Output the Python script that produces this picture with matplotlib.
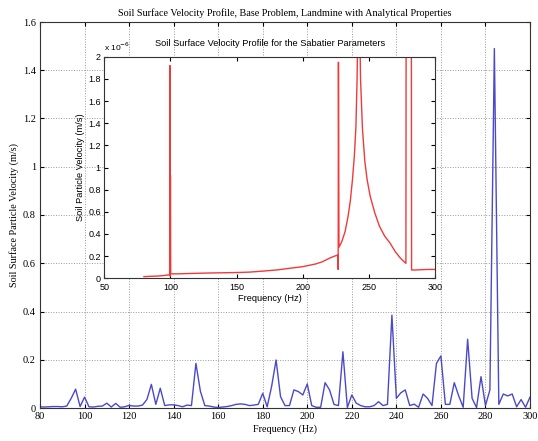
import numpy as np
import matplotlib
matplotlib.use('Agg')
import matplotlib.pyplot as plt
from matplotlib.ticker import FormatStrFormatter

# main plot: landmine, analytical properties (2 Hz steps)
freq = np.arange(80, 302, 2)
vel = [0.005, 0.004, 0.005, 0.006, 0.006, 0.005, 0.008, 0.04, 0.078, 0.006,
       0.045, 0.005, 0.004, 0.007, 0.008, 0.02, 0.004, 0.019, 0.003, 0.005,
       0.011, 0.008, 0.008, 0.012, 0.035, 0.098, 0.015, 0.082, 0.01, 0.013,
       0.013, 0.01, 0.005, 0.012, 0.01, 0.185, 0.07, 0.01, 0.008, 0.004,
       0.002, 0.004, 0.006, 0.01, 0.015, 0.017, 0.015, 0.01, 0.012, 0.015,
       0.061, 0.005, 0.09, 0.199, 0.047, 0.01, 0.01, 0.075, 0.068, 0.054,
       0.1, 0.01, 0.003, 0.003, 0.105, 0.075, 0.015, 0.01, 0.233, 0.002,
       0.054, 0.02, 0.01, 0.005, 0.005, 0.01, 0.026, 0.01, 0.015, 0.385,
       0.04, 0.063, 0.075, 0.01, 0.016, 0.003, 0.058, 0.04, 0.01, 0.185,
       0.216, 0.015, 0.015, 0.105, 0.05, 0.003, 0.285, 0.04, 0.002, 0.13,
       0.01, 0.075, 1.49, 0.015, 0.058, 0.05, 0.058, 0.005, 0.035, 0.003,
       0.045]

# inset: Sabatier parameters (velocity in 1e-6 m/s)
sab_freq = [80, 85, 90, 95, 98, 99.4, 99.6, 99.8, 100.0, 100.2, 105, 110, 120,
            130, 140, 150, 160, 170, 180, 190, 200, 210, 215, 220, 224, 226.6,
            226.8, 227.0, 227.2, 227.4, 229.5, 232, 234.3, 236, 237.6, 239,
            240.2, 241.1, 241.8, 242.4, 243, 243.7, 245.2, 247, 248.7, 251,
            254.5, 258, 262, 265.9, 270, 274, 278.0, 278.2, 282.1, 282.3, 285,
            290, 295, 300]
sab_vel = [0.015, 0.018, 0.02, 0.025, 0.03, 0.03, 1.92, 0.02, 0.93, 0.04, 0.04,
           0.042, 0.045, 0.048, 0.05, 0.052, 0.056, 0.065, 0.075, 0.09, 0.105,
           0.13, 0.15, 0.18, 0.2, 0.21, 0.08, 1.95, 1.22, 0.28, 0.33, 0.42,
           0.56, 0.7, 0.89, 1.1, 1.36, 1.8, 2.4, 2.8, 2.4, 1.8, 1.34, 1.05,
           0.89, 0.74, 0.59, 0.47, 0.38, 0.32, 0.24, 0.18, 0.135, 2.6, 2.6,
           0.075, 0.075, 0.078, 0.08, 0.08]

serif = 'Liberation Serif'
sans = 'Liberation Sans'

fig = plt.figure(figsize=(5.38, 4.41), dpi=100)
ax = fig.add_axes([40/538, 1-408/441, 490/538, 386/441])
ax.plot(freq, vel, color='#4a4ac8', lw=1.0)
ax.set_xlim(80, 300)
ax.set_ylim(0, 1.6)
ax.set_xticks(np.arange(80, 301, 20))
ax.set_yticks(np.arange(0, 1.61, 0.2))
ax.yaxis.set_major_formatter(FormatStrFormatter('%g'))
ax.grid(True, ls=':', color='#999999', lw=0.7)
ax.tick_params(direction='in', length=3, labelsize=7.5, pad=3, top=True, right=True)
for lab in ax.get_xticklabels() + ax.get_yticklabels():
    lab.set_family(serif)
for s in ax.spines.values():
    s.set_color('#333333')
ax.set_title('Soil Surface Velocity Profile, Base Problem, Landmine with Analytical Properties',
             family=serif, fontsize=7.3, pad=4)
ax.set_xlabel('Frequency (Hz)', family=serif, fontsize=7.3, labelpad=2)
ax.set_ylabel('Soil Surface Particle Velocity (m/s)', family=serif, fontsize=7.3, labelpad=3)

ins = fig.add_axes([104.3/538, 1-278.3/441, 330.7/538, 221.6/441])
ins.plot(sab_freq, sab_vel, color='#f03a3a', lw=1.0)
ins.set_xlim(50, 300)
ins.set_ylim(0, 2)
ins.set_xticks(np.arange(50, 301, 50))
ins.set_yticks(np.arange(0, 2.01, 0.2))
ins.yaxis.set_major_formatter(FormatStrFormatter('%g'))
ins.tick_params(direction='in', length=3, labelsize=6.5, top=True, right=True)
ins.tick_params(axis='x', pad=3.5)
ins.tick_params(axis='y', pad=2.5)
for lab in ins.get_xticklabels() + ins.get_yticklabels():
    lab.set_family(sans)
for s in ins.spines.values():
    s.set_color('#333333')
ins.set_title('Soil Surface Velocity Profile for the Sabatier Parameters',
              family=sans, fontsize=6.7, pad=8)
ins.set_xlabel('Frequency (Hz)', family=sans, fontsize=6.7, labelpad=1.5)
ins.set_ylabel('Soil Particle Velocity (m/s)', family=sans, fontsize=6.7, labelpad=2)
ins.text(0.0, 1.015, r'x 10$^{-6}$', transform=ins.transAxes, family=sans,
         fontsize=6, ha='left', va='bottom')

fig.savefig('out.png', dpi=100)
